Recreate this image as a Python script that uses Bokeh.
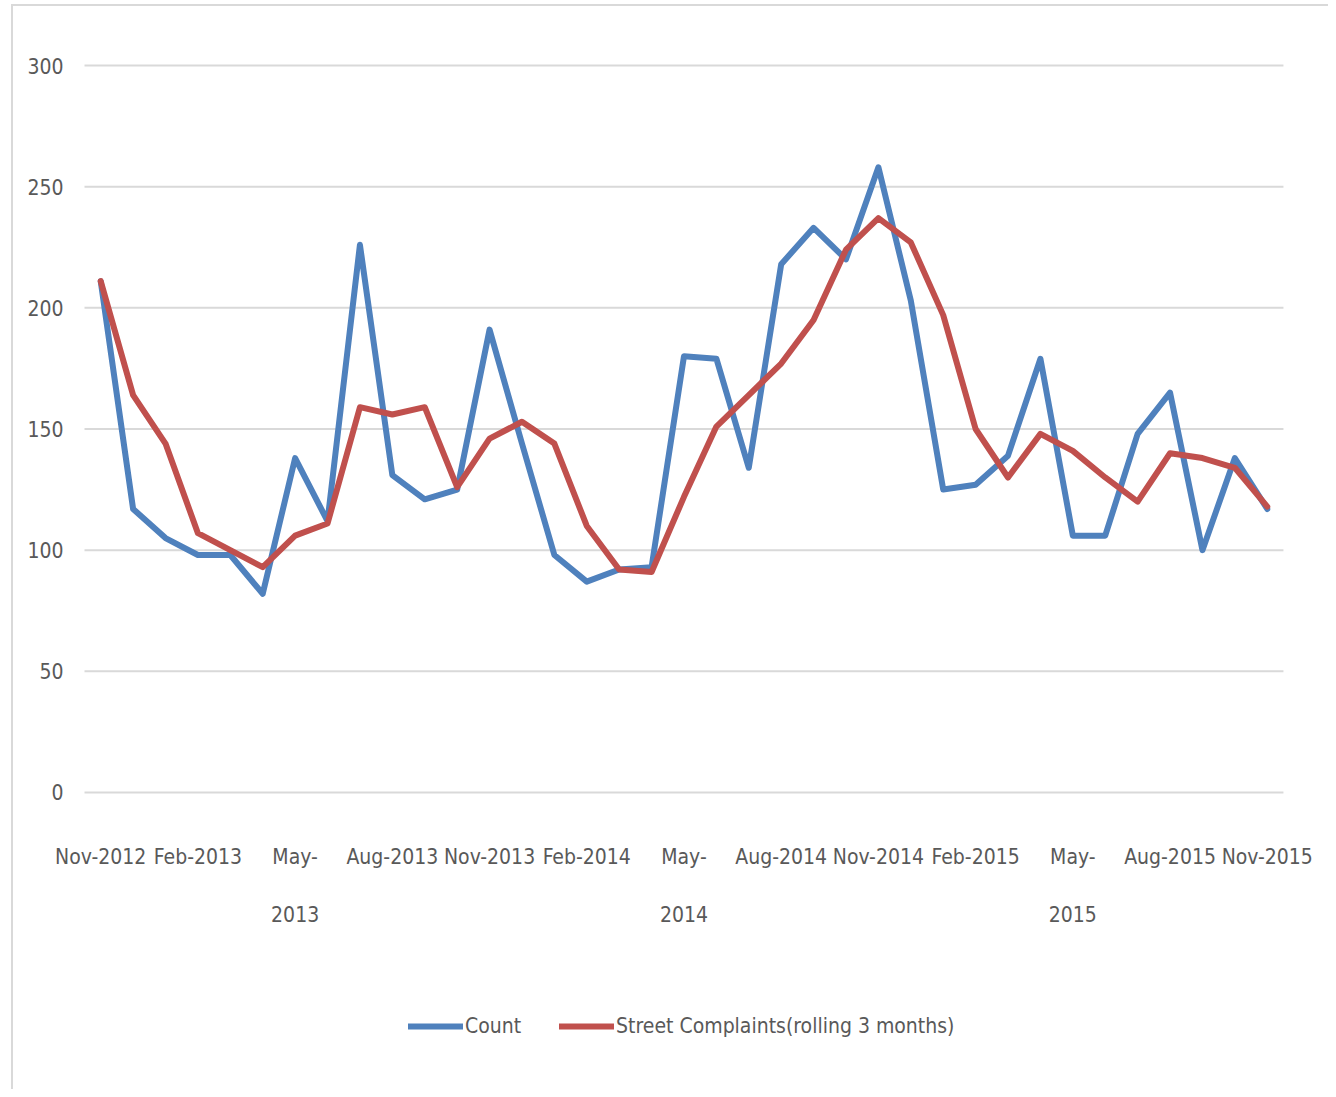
from bokeh.plotting import figure
from bokeh.models import Legend, LegendItem, Range1d
from bokeh.core.properties import value
from bokeh.embed import file_html
from bokeh.resources import INLINE

# ---- data ----
months = ["Nov-2012", "Dec-2012", "Jan-2013", "Feb-2013", "Mar-2013", "Apr-2013",
          "May-2013", "Jun-2013", "Jul-2013", "Aug-2013", "Sep-2013", "Oct-2013",
          "Nov-2013", "Dec-2013", "Jan-2014", "Feb-2014", "Mar-2014", "Apr-2014",
          "May-2014", "Jun-2014", "Jul-2014", "Aug-2014", "Sep-2014", "Oct-2014",
          "Nov-2014", "Dec-2014", "Jan-2015", "Feb-2015", "Mar-2015", "Apr-2015",
          "May-2015", "Jun-2015", "Jul-2015", "Aug-2015", "Sep-2015", "Oct-2015",
          "Nov-2015"]
count = [211, 117, 105, 98, 98, 82, 138, 112, 226, 131, 121, 125,
         191, 144, 98, 87, 92, 93, 180, 179, 134, 218, 233, 220,
         258, 203, 125, 127, 139, 179, 106, 106, 148, 165, 100, 138,
         117]
rolling = [211, 164, 144, 107, 100, 93, 106, 111, 159, 156, 159, 126,
           146, 153, 144, 110, 92, 91, 122, 151, 164, 177, 195, 224,
           237, 227, 197, 150, 130, 148, 141, 130, 120, 140, 138, 134,
           118]
tick_idx = [0, 3, 6, 9, 12, 15, 18, 21, 24, 27, 30, 33, 36]
tick_labels = ["Nov-2012", "Feb-2013", "May-\n2013", "Aug-2013", "Nov-2013",
               "Feb-2014", "May-\n2014", "Aug-2014", "Nov-2014", "Feb-2015",
               "May-\n2015", "Aug-2015", "Nov-2015"]
y_ticks = [0, 50, 100, 150, 200, 250, 300]
y_tick_labels = ["0", "50", "100", "150", "200", "250", "300"]
series_names = ["Count", "Street Complaints(rolling 3 months)"]

FONT = "DejaVu Sans Condensed, Liberation Sans"
FS = "21px"
TXT = "#595959"
BLUE = "#4F81BD"
RED = "#C0504D"
GRID = "#D9D9D9"

n = len(months)
x = list(range(n))

# One frame covering the whole canvas; the value area spans x -0.5..n-0.5
# and y 0..300 (same pixel density as the reference), labels drawn around it.
p = figure(frame_width=1315, frame_height=1083, output_backend="svg", toolbar_location=None,
           x_range=Range1d(-2.691, 37.89), y_range=Range1d(-122.56, 324.35),
           min_border=0)
p.styles = {"border-top": "2px solid #d9d9d9", "border-left": "2px solid #d9d9d9",
            "margin-left": "11px", "margin-top": "4px"}
p.outline_line_color = None
p.background_fill_color = "white"
p.xaxis.visible = False
p.yaxis.visible = False
p.xgrid.visible = False
p.ygrid.visible = False

# horizontal gridlines
p.segment(x0=[-0.5] * len(y_ticks), x1=[n - 0.5] * len(y_ticks), y0=y_ticks, y1=y_ticks,
          line_color=GRID, line_width=2)

# value labels
p.text(x=[-0.5] * len(y_ticks), y=y_ticks, text=y_tick_labels, x_offset=-21,
       text_font=value(FONT), text_font_size=FS, text_color=TXT,
       text_align="right", text_baseline="middle")

# series
r1 = p.line(x, count, line_color=BLUE, line_width=6, line_join="round", line_cap="round")
r2 = p.line(x, rolling, line_color=RED, line_width=6, line_join="round", line_cap="round")

# category (month) labels below the zero line
p.text(x=tick_idx, y=[0] * len(tick_idx), text=tick_labels, y_offset=53,
       text_font=value(FONT), text_font_size=FS, text_color=TXT,
       text_align="center", text_baseline="top", text_line_height=2.4)

legend = Legend(items=[LegendItem(label=series_names[0], renderers=[r1]),
                       LegendItem(label=series_names[1], renderers=[r2])],
                orientation="horizontal", location=(395, 50),
                glyph_width=55, glyph_height=26, label_standoff=2, spacing=38,
                padding=0, margin=0, border_line_color=None,
                background_fill_alpha=0,
                label_text_font=FONT, label_text_font_size=FS,
                label_text_color=TXT)
p.add_layout(legend)

open("out.html", "w").write(file_html(p, INLINE))
